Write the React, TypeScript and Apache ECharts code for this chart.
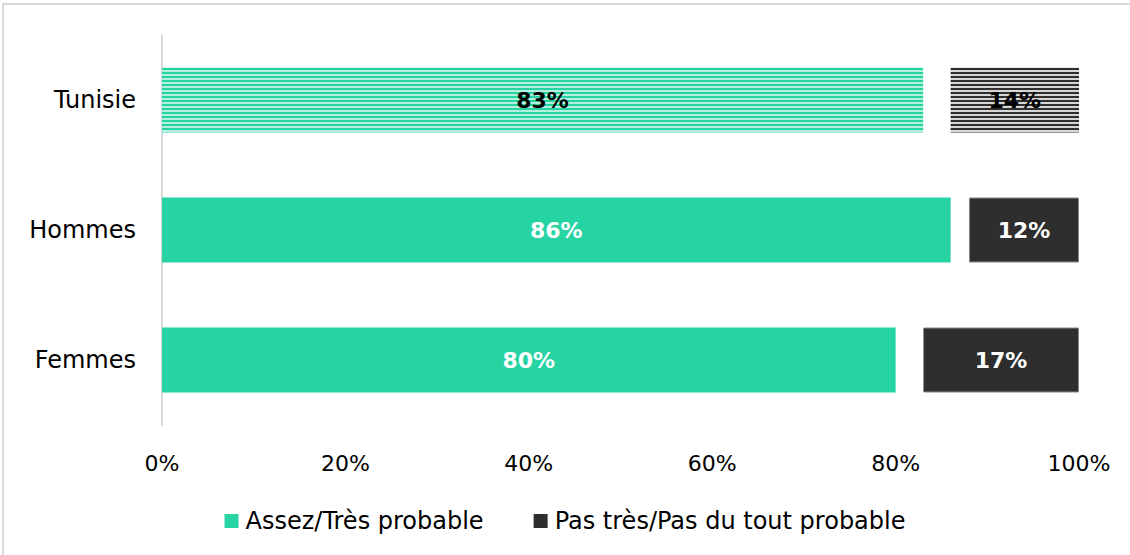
import React, { useEffect, useRef } from "react";
import * as echarts from "echarts";

const categories = ["Tunisie", "Hommes", "Femmes"];
const probable = [83, 86, 80];
const gap = [3, 2, 3];
const notProbable = [14, 12, 17];
const xTicks = [0, 20, 40, 60, 80, 100];
const seriesNames = ["Assez/Très probable", "Pas très/Pas du tout probable"];

const FONT = "DejaVu Sans";
const GREEN = "#26d3a3";
const DARK = "#2e2e2e";

function stripe(c1: string, c2: string) {
  const cv = document.createElement("canvas");
  cv.width = 4;
  cv.height = 4;
  const ctx = cv.getContext("2d")!;
  ctx.fillStyle = c2;
  ctx.fillRect(0, 0, 4, 4);
  ctx.fillStyle = c1;
  ctx.fillRect(0, 0, 4, 2);
  return { image: cv, repeat: "repeat" } as any;
}

export default function App() {
  const ref = useRef<HTMLDivElement>(null);
  useEffect(() => {
    if (!ref.current) return;
    const chart = echarts.init(ref.current, null, { renderer: "svg" });
    const greenPat = stripe(GREEN, "#b5efdd");
    const darkPat = stripe(DARK, "#d6d6d6");
    const barLabel = {
      show: true,
      position: "inside",
      color: "#fff",
      fontWeight: "bold",
      fontSize: 22,
      fontFamily: FONT,
      formatter: (p: any) => p.value + "%",
    };
    chart.setOption({
      animation: false,
      textStyle: { fontFamily: FONT },
      graphic: [
        {
          type: "rect",
          shape: { x: 3, y: 4, width: 1140, height: 560 },
          style: { fill: "none", stroke: "#d9d9d9", lineWidth: 2 },
          silent: true,
        },
      ],
      grid: { left: 162, right: 51, top: 35, bottom: 130, containLabel: false },
      legend: {
        data: seriesNames,
        bottom: 17,
        left: "center",
        itemWidth: 14,
        itemHeight: 14,
        itemGap: 50,
        icon: "rect",
        itemStyle: { borderWidth: 0 },
        textStyle: { fontFamily: FONT, fontSize: 24, color: "#000", padding: [0, 0, 0, 2] },
      },
      xAxis: {
        type: "value",
        min: 0,
        max: 100,
        interval: 20,
        axisLine: { show: false },
        axisTick: { show: false },
        splitLine: { show: false },
        axisLabel: {
          margin: 27,
          fontSize: 22,
          color: "#000",
          fontFamily: FONT,
          formatter: (v: number) => (xTicks.includes(v) ? v + "%" : ""),
        },
      },
      yAxis: {
        type: "category",
        data: categories,
        inverse: true,
        axisLine: { show: true, lineStyle: { color: "#d9d9d9", width: 2 } },
        axisTick: { show: false },
        axisLabel: { margin: 26, fontSize: 24, color: "#000", fontFamily: FONT },
      },
      series: [
        {
          name: seriesNames[0],
          type: "bar",
          stack: "s",
          barWidth: 65,
          itemStyle: { color: GREEN },
          label: barLabel,
          data: probable.map((v, i) =>
            i === 0
              ? { value: v, itemStyle: { color: greenPat }, label: { color: "#000" } }
              : v
          ),
        },
        {
          name: "gap",
          type: "bar",
          stack: "s",
          barWidth: 65,
          itemStyle: { color: "rgba(0,0,0,0)" },
          silent: true,
          data: gap,
        },
        {
          name: seriesNames[1],
          type: "bar",
          stack: "s",
          barWidth: 65,
          itemStyle: { color: DARK, borderColor: "#8a8a8a", borderWidth: 1 },
          label: barLabel,
          data: notProbable.map((v, i) =>
            i === 0
              ? { value: v, itemStyle: { color: darkPat, borderWidth: 0 }, label: { color: "#000" } }
              : v
          ),
        },
      ],
    });
    return () => chart.dispose();
  }, []);
  return (
    <div
      ref={ref}
      style={{ position: "fixed", left: 0, top: 0, width: 1130, height: 555, background: "#fff" }}
    />
  );
}
